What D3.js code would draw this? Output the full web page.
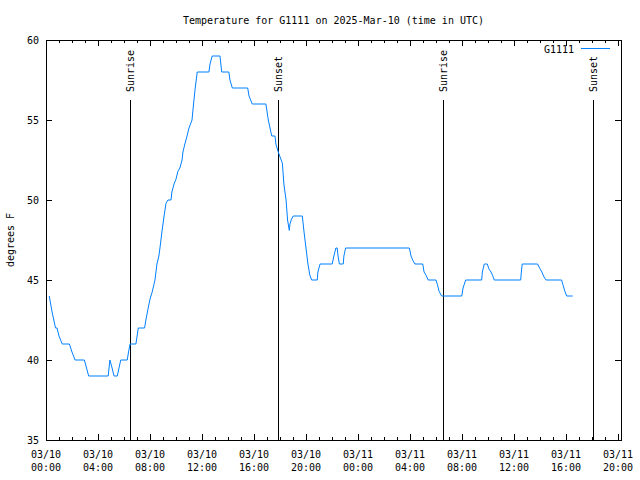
<!DOCTYPE html>
<html><head><meta charset="utf-8">
<script src="https://cdn.jsdelivr.net/npm/d3@7"></script>
<style>
body{margin:0;background:#fff}
svg{display:block}
text{font-family:"DejaVu Sans Mono","Liberation Mono",monospace;font-size:10px;fill:#000}
</style>
</head><body>
<script>
// ---- data ----
const times = ["2025-03-10T00:15","2025-03-10T00:28","2025-03-10T00:44","2025-03-10T00:51","2025-03-10T01:00","2025-03-10T01:15","2025-03-10T01:48","2025-03-10T02:00","2025-03-10T02:14","2025-03-10T02:57","2025-03-10T03:07","2025-03-10T03:17","2025-03-10T04:47","2025-03-10T04:55","2025-03-10T05:05","2025-03-10T05:14","2025-03-10T05:29","2025-03-10T05:37","2025-03-10T05:45","2025-03-10T06:15","2025-03-10T06:21","2025-03-10T06:28","2025-03-10T06:55","2025-03-10T07:06","2025-03-10T07:35","2025-03-10T07:41","2025-03-10T07:51","2025-03-10T08:00","2025-03-10T08:09","2025-03-10T08:18","2025-03-10T08:23","2025-03-10T08:32","2025-03-10T08:41","2025-03-10T08:46","2025-03-10T08:55","2025-03-10T09:05","2025-03-10T09:14","2025-03-10T09:23","2025-03-10T09:37","2025-03-10T09:41","2025-03-10T09:51","2025-03-10T10:00","2025-03-10T10:09","2025-03-10T10:18","2025-03-10T10:28","2025-03-10T10:32","2025-03-10T10:41","2025-03-10T10:51","2025-03-10T11:00","2025-03-10T11:14","2025-03-10T11:21","2025-03-10T11:28","2025-03-10T11:38","2025-03-10T12:32","2025-03-10T12:37","2025-03-10T12:47","2025-03-10T13:23","2025-03-10T13:31","2025-03-10T14:04","2025-03-10T14:09","2025-03-10T14:20","2025-03-10T15:31","2025-03-10T15:37","2025-03-10T15:52","2025-03-10T16:55","2025-03-10T17:06","2025-03-10T17:22","2025-03-10T17:37","2025-03-10T17:41","2025-03-10T17:52","2025-03-10T18:00","2025-03-10T18:11","2025-03-10T18:18","2025-03-10T18:28","2025-03-10T18:35","2025-03-10T18:43","2025-03-10T18:46","2025-03-10T18:53","2025-03-10T19:01","2025-03-10T19:43","2025-03-10T19:51","2025-03-10T20:00","2025-03-10T20:09","2025-03-10T20:18","2025-03-10T20:26","2025-03-10T20:52","2025-03-10T20:55","2025-03-10T21:05","2025-03-10T22:01","2025-03-10T22:09","2025-03-10T22:18","2025-03-10T22:24","2025-03-10T22:28","2025-03-10T22:34","2025-03-10T22:52","2025-03-10T22:55","2025-03-10T23:03","2025-03-11T03:57","2025-03-11T04:05","2025-03-11T04:14","2025-03-11T04:23","2025-03-11T04:59","2025-03-11T05:05","2025-03-11T05:14","2025-03-11T05:24","2025-03-11T06:00","2025-03-11T06:07","2025-03-11T06:14","2025-03-11T06:26","2025-03-11T07:59","2025-03-11T08:05","2025-03-11T08:17","2025-03-11T09:31","2025-03-11T09:34","2025-03-11T09:43","2025-03-11T09:57","2025-03-11T10:04","2025-03-11T10:14","2025-03-11T10:21","2025-03-11T10:29","2025-03-11T12:31","2025-03-11T12:34","2025-03-11T12:38","2025-03-11T13:49","2025-03-11T14:00","2025-03-11T14:09","2025-03-11T14:18","2025-03-11T14:28","2025-03-11T15:40","2025-03-11T15:46","2025-03-11T15:55","2025-03-11T16:03","2025-03-11T16:31"];
const temps = [44,43,42,42,41.5,41,41,40.5,40,40,39.5,39,39,40,39.5,39,39,39.5,40,40,40.5,41,41,42,42,42.5,43.2,43.8,44.2,44.7,45,46,46.5,47,48,49,49.8,50,50,50.5,51,51.3,51.8,52,52.5,53,53.5,54,54.5,55,56,56.9,58,58,58.5,59,59,58,58,57.5,57,57,56.5,56,56,55,54,54,53.5,53,52.7,52.3,51,50,48.75,48.1,48.5,48.8,49,49,48,47,46,45.3,45,45,45.5,46,46,46.5,47,47,46.5,46,46,46.5,47,47,46.5,46.2,46,46,45.5,45.3,45,45,44.7,44.3,44,44,44.5,45,45,45.5,46,46,45.7,45.5,45.3,45,45,45.5,46,46,45.7,45.5,45.2,45,45,44.7,44.3,44,44];
const eventTimes = ["2025-03-10T06:28","2025-03-10T17:52","2025-03-11T06:33","2025-03-11T18:03"];
const eventLabels = ["Sunrise","Sunset","Sunrise","Sunset"];
const yTicks = [35,40,45,50,55,60];
const seriesName = "G1111";
const titleText = "Temperature for G1111 on 2025-Mar-10 (time in UTC)";
const yLabel = "degrees F";
const xDomain = ["2025-03-10T00:00","2025-03-11T20:14"];

// ---- chart ----
const parse = d3.utcParse("%Y-%m-%dT%H:%M");
const W = 640, H = 480;
const L = 46, R = 621, T = 40, B = 440;
const color = "#0080ff";

const svg = d3.select("body").append("svg").attr("width", W).attr("height", H);

const x = d3.scaleUtc().domain(xDomain.map(parse)).range([L, R]);
const y = d3.scaleLinear().domain([35, 60]).range([B, T]);

const data = times.map((t, i) => ({t: parse(t), v: temps[i]}));

// title
svg.append("text").attr("x", (L + R) / 2).attr("y", 24).attr("text-anchor", "middle").text(titleText);

// y label
svg.append("text").attr("transform", `translate(14,${(T + B) / 2}) rotate(-90)`)
  .attr("text-anchor", "middle").text(yLabel);

const g = svg.append("g").attr("shape-rendering", "crispEdges");

// x ticks
const major = x.ticks(d3.utcHour.every(4));
const minor = x.ticks(d3.utcHour.every(1));
g.append("g").attr("transform", `translate(0,${B})`)
  .call(d3.axisBottom(x).tickValues(minor).tickSize(-3).tickFormat(""))
  .call(s => s.select(".domain").remove());
g.append("g").attr("transform", `translate(0,${B})`)
  .call(d3.axisBottom(x).tickValues(major).tickSize(-6).tickFormat(""))
  .call(s => s.select(".domain").remove());
g.append("g").attr("transform", `translate(0,${T})`)
  .call(d3.axisTop(x).tickValues(minor).tickSize(-3).tickFormat(""))
  .call(s => s.select(".domain").remove());
g.append("g").attr("transform", `translate(0,${T})`)
  .call(d3.axisTop(x).tickValues(major).tickSize(-6).tickFormat(""))
  .call(s => s.select(".domain").remove());

// x tick labels (two lines)
const fmtD = d3.utcFormat("%m/%d"), fmtH = d3.utcFormat("%H:%M");
const xl = svg.append("g");
major.forEach(d => {
  const tx = xl.append("text").attr("x", x(d)).attr("text-anchor", "middle");
  tx.append("tspan").attr("x", x(d)).attr("y", 458).text(fmtD(d));
  tx.append("tspan").attr("x", x(d)).attr("y", 471).text(fmtH(d));
});

// y ticks
g.append("g").attr("transform", `translate(${L},0)`)
  .call(d3.axisLeft(y).tickValues(yTicks).tickSize(-6).tickFormat(""))
  .call(s => s.select(".domain").remove());
g.append("g").attr("transform", `translate(${R},0)`)
  .call(d3.axisRight(y).tickValues(yTicks).tickSize(-6).tickFormat(""))
  .call(s => s.select(".domain").remove());
svg.append("g").selectAll("text").data(yTicks).join("text")
  .attr("x", 39).attr("y", d => y(d)).attr("dy", "0.35em").attr("text-anchor", "end").text(d => d);

svg.selectAll(".tick line").attr("stroke", "#000");

// frame
g.append("rect").attr("x", L).attr("y", T).attr("width", R - L).attr("height", B - T)
  .attr("fill", "none").attr("stroke", "#000");

// sunrise/sunset lines
eventTimes.forEach((t, i) => {
  const ex = Math.round(x(parse(t)));
  g.append("line").attr("x1", ex).attr("x2", ex).attr("y1", 100).attr("y2", B).attr("stroke", "#000");
  svg.append("text").attr("transform", `translate(${ex},92) rotate(-90)`)
    .attr("text-anchor", "start").attr("dy", "0.35em").text(eventLabels[i]);
});

// series line
svg.append("path").datum(data)
  .attr("fill", "none").attr("stroke", color).attr("stroke-width", 1)
  .attr("d", d3.line().x(d => x(d.t)).y(d => y(d.v)));

// legend
svg.append("text").attr("x", 574).attr("y", 49).attr("dy", "0.35em").attr("text-anchor", "end").text(seriesName);
g.append("line").attr("x1", 581).attr("x2", 610).attr("y1", 48.5).attr("y2", 48.5).attr("stroke", color);
</script>
</body></html>
